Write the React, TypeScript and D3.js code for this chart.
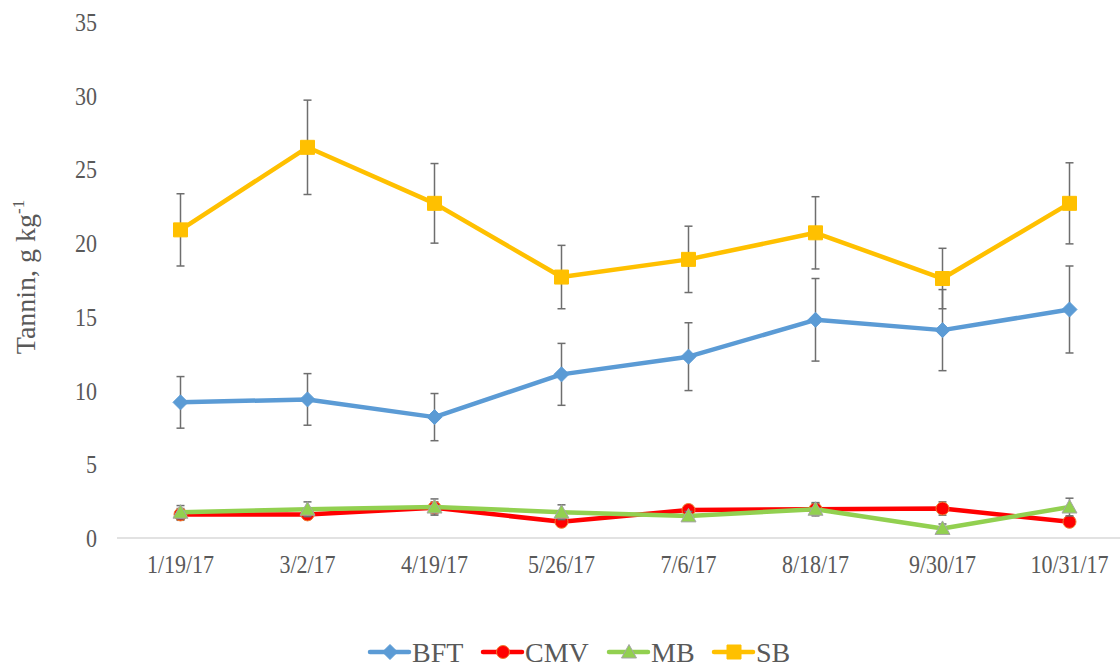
import React from 'react';
import * as d3 from 'd3';

const dates = ['1/19/17', '3/2/17', '4/19/17', '5/26/17', '7/6/17', '8/18/17', '9/30/17', '10/31/17'];
const yTicks = [0, 5, 10, 15, 20, 25, 30, 35];

// tannin means and error bar half-widths
const bft = [9.2, 9.4, 8.2, 11.1, 12.3, 14.8, 14.1, 15.5];
const bftErr = [1.75, 1.75, 1.6, 2.1, 2.3, 2.8, 2.75, 2.95];
const cmv = [1.6, 1.6, 2.05, 1.1, 1.9, 1.95, 2.0, 1.1];
const cmvErr = [0.4, 0.3, 0.4, 0.3, 0.3, 0.4, 0.45, 0.3];
const mb = [1.75, 1.95, 2.1, 1.75, 1.5, 1.95, 0.65, 2.1];
const mbErr = [0.45, 0.5, 0.55, 0.5, 0.3, 0.45, 0.3, 0.6];
const sb = [20.9, 26.5, 22.7, 17.7, 18.9, 20.7, 17.6, 22.7];
const sbErr = [2.45, 3.2, 2.7, 2.15, 2.25, 2.45, 2.05, 2.75];

const series = [
  { name: 'BFT', values: bft, err: bftErr, color: '#5B9BD5', edge: '#5B9BD5', marker: 'diamond' },
  { name: 'CMV', values: cmv, err: cmvErr, color: '#FF0000', edge: '#ED7D31', marker: 'circle' },
  { name: 'MB', values: mb, err: mbErr, color: '#92D050', edge: '#A5A5A5', marker: 'triangle' },
  { name: 'SB', values: sb, err: sbErr, color: '#FFC000', edge: '#FFC000', marker: 'square' },
];

const W = 1120;
const H = 667;
const font = '"Liberation Serif", "Times New Roman", serif';
// the original figure is a bit stretched vertically, so the axis text is too
const stretch = 1.17;

function markerPath(kind: string) {
  // all centred on 0,0
  if (kind === 'diamond') return 'M0,-7.5L7.5,0L0,7.5L-7.5,0Z';
  if (kind === 'square') return 'M-7,-7H7V7H-7Z';
  if (kind === 'triangle') return 'M0,-7.5L7.5,6L-7.5,6Z';
  return d3.symbol(d3.symbolCircle, Math.PI * 6.5 * 6.5)() as string;
}

export default function App() {
  const x = d3.scaleBand<string>().domain(dates).range([117, 1133]);
  const y = d3.scaleLinear().domain([0, 35]).range([538, 22]);
  const cx = (d: string) => (x(d) as number) + x.bandwidth() / 2;

  const line = d3.line<number>()
    .x((_, i) => cx(dates[i]))
    .y(v => y(v));

  const legendItems = [
    { s: series[0], x0: 370 },
    { s: series[1], x0: 483 },
    { s: series[2], x0: 609 },
    { s: series[3], x0: 714 },
  ];

  return (
    <svg width={W} height={H} style={{ position: 'absolute', left: 0, top: 0, background: '#fff' }}
      fontFamily={font}>
      {/* y tick labels */}
      {yTicks.map(t => (
        <text key={t} transform={`translate(97,${y(t)}) scale(1,${stretch})`} dy="0.35em" textAnchor="end"
          fontSize={22} fill="#595959">{t}</text>
      ))}
      {/* x axis */}
      <line x1={117} x2={W} y1={y(0)} y2={y(0)} stroke="#D9D9D9" strokeWidth={1.5} />
      {dates.map(d => (
        <text key={d} transform={`translate(${cx(d)},573) scale(1,${stretch})`} textAnchor="middle"
          fontSize={22} fill="#595959">{d}</text>
      ))}
      {/* y axis title */}
      <text transform={`translate(35,277) rotate(-90)`} textAnchor="middle" fontSize={28} fill="#595959">
        Tannin, g kg<tspan fontSize={17} dy={-11}>-1</tspan>
      </text>

      {series.map(s => (
        <g key={s.name}>
          <path d={line(s.values) as string} fill="none" stroke={s.color} strokeWidth={4.5} strokeLinejoin="round" />
          {s.values.map((v, i) => {
            const px = cx(dates[i]);
            return (
              <g key={i} stroke="#6E6E6E" strokeWidth={1.5}>
                <line x1={px} x2={px} y1={y(v + s.err[i])} y2={y(v - s.err[i])} />
                <line x1={px - 4} x2={px + 4} y1={y(v + s.err[i])} y2={y(v + s.err[i])} />
                <line x1={px - 4} x2={px + 4} y1={y(v - s.err[i])} y2={y(v - s.err[i])} />
              </g>
            );
          })}
          {s.values.map((v, i) => (
            <path key={'m' + i} d={markerPath(s.marker)} transform={`translate(${cx(dates[i])},${y(v)})`}
              fill={s.color} stroke={s.edge} strokeWidth={1} />
          ))}
        </g>
      ))}

      {/* legend */}
      {legendItems.map(({ s, x0 }) => (
        <g key={s.name}>
          <line x1={x0} x2={x0 + 39} y1={652} y2={652} stroke={s.color} strokeWidth={4.5} strokeLinecap="round" />
          <path d={markerPath(s.marker)} transform={`translate(${x0 + 20},652)`} fill={s.color} stroke={s.edge} strokeWidth={1} />
          <text x={x0 + 42} y={662} fontSize={28} fill="#595959">{s.name}</text>
        </g>
      ))}
    </svg>
  );
}
